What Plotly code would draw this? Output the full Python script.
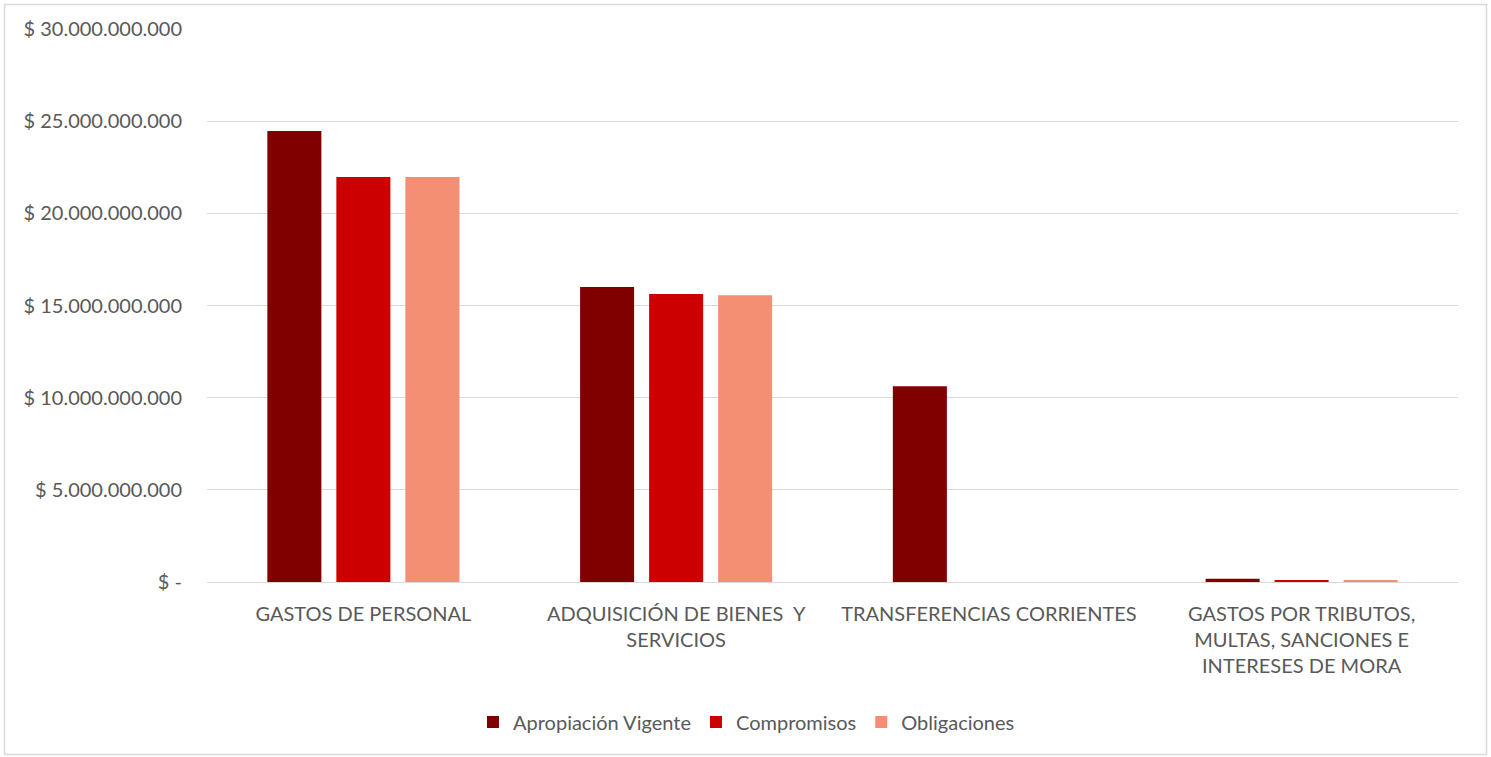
import plotly.graph_objects as go

categories = [
    "GASTOS DE PERSONAL",
    "ADQUISICIÓN DE BIENES  Y<br>SERVICIOS",
    "TRANSFERENCIAS CORRIENTES",
    "GASTOS POR TRIBUTOS,<br>MULTAS, SANCIONES E<br>INTERESES DE MORA",
]
apropiacion = [24.47e9, 16.0e9, 10.62e9, 0.17e9]
compromisos = [21.97e9, 15.63e9, 0.0, 0.11e9]
obligaciones = [21.97e9, 15.55e9, 0.0, 0.11e9]

series_names = ["Apropiación Vigente", "Compromisos", "Obligaciones"]
series_colors = ["#800000", "#CC0000", "#F58F73"]

tick_vals = [0, 5e9, 10e9, 15e9, 20e9, 25e9, 30e9]
tick_text = ["$ -", "$ 5.000.000.000", "$ 10.000.000.000", "$ 15.000.000.000",
             "$ 20.000.000.000", "$ 25.000.000.000", "$ 30.000.000.000"]

fig = go.Figure()
for name, vals, col in zip(series_names, [apropiacion, compromisos, obligaciones], series_colors):
    fig.add_trace(go.Bar(name=name, x=categories, y=vals, marker=dict(color=col, line=dict(width=0))))

W, H = 1491, 757
L, R, T, B = 207, 33, 29, 175
pw, ph = W - L - R, H - T - B

def px_x(p):
    return (p - L) / pw

def px_y(p):
    return (H - B - p) / ph

FS = 20
fig.update_layout(
    width=W, height=H,
    margin=dict(l=L, r=R, t=T, b=B),
    paper_bgcolor="white", plot_bgcolor="white",
    barmode="group", bargap=0.338, bargroupgap=0.217,
    font=dict(family="Lato", size=FS, color="#595959"),
    showlegend=True,
    legend=dict(orientation="h", x=px_x(746.5), xanchor="center",
                y=px_y(722), yanchor="middle", font=dict(size=FS, color="#595959"),
                itemwidth=30, traceorder="normal", entrywidth=0),
    xaxis=dict(showgrid=False, showline=False, ticks="", ticklabelstandoff=18,
               tickfont=dict(size=FS, color="#595959")),
    yaxis=dict(range=[0, 30e9], tickvals=tick_vals, ticktext=tick_text,
               showgrid=True, gridcolor="#D9D9D9", gridwidth=1,
               zeroline=True, zerolinecolor="#D9D9D9", zerolinewidth=1,
               showline=False, ticks="", ticklabelstandoff=24,
               tickfont=dict(size=FS, color="#595959")),
    shapes=[dict(type="rect", xref="paper", yref="paper",
                 x0=px_x(4.5), x1=px_x(1486.5), y0=px_y(754.5), y1=px_y(4.5),
                 line=dict(color="#D9D9D9", width=1.5), fillcolor="rgba(0,0,0,0)",
                 layer="below")],
)

fig.write_html("out.html", config={"displayModeBar": False},
               post_script="document.body.style.margin='0';document.body.style.overflow='hidden';")
